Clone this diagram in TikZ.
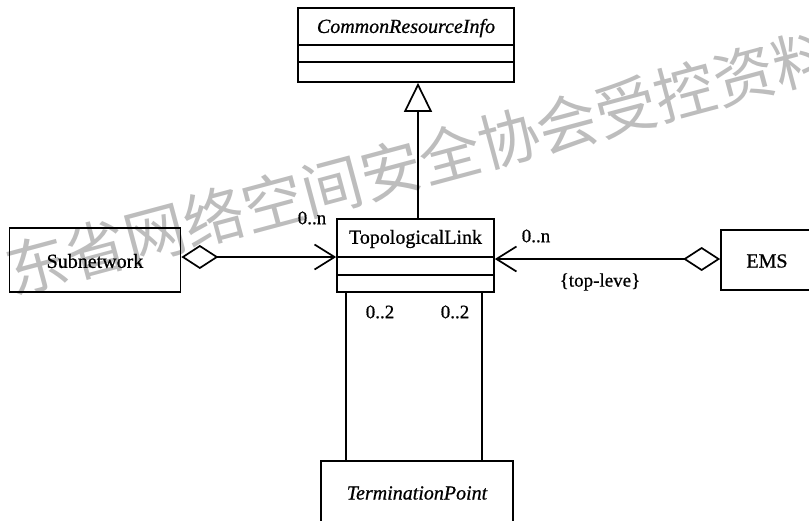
\documentclass[tikz,border=0pt]{standalone}
\usepackage{fontspec}
\setmainfont{Liberation Serif}[FakeBold=0.7]
\newfontfamily\cjk{Noto Sans CJK SC}
\usetikzlibrary{arrows.meta}
\definecolor{wmgray}{HTML}{BDBDBD}

\tikzset{
  classbox/.style={draw, line width=1.7pt, rectangle, inner sep=0pt, fill=none},
  lbl/.style={font=\fontsize{19}{22}\selectfont, inner sep=0pt},
  cname/.style={font=\fontsize{20}{24}\selectfont, inner sep=0pt},
  conn/.style={line width=1.7pt},
  gen/.style={conn, -{Triangle[open, length=29pt, width=28pt, line width=1.7pt]}},
  agg/.style={conn, {Diamond[open, length=37pt, width=24pt, line width=1.7pt]}-{Straight Barb[length=20pt, width=25pt, line width=1.7pt]}},
  compline/.style={line width=1.7pt},
}

\begin{document}
\begin{tikzpicture}[x=1pt, y=-1pt]
\useasboundingbox (0,0) rectangle (809,520);
\clip (0,0) rectangle (809,520);

% watermark behind the diagram
\node[rotate=15, text=wmgray, font=\cjk\fontsize{61}{61}\selectfont, inner sep=0pt]
  (wm) at (420,162) {东省网络空间安全协会受控资料};

% class boxes
\node[classbox, minimum width=216pt, minimum height=74pt] (cri) at (406,45) {};
\node[classbox, minimum width=157pt, minimum height=73pt] (tl) at (415.5,255.5) {};
\node[classbox, minimum width=171pt, minimum height=64pt] (sub) at (95,260) {};
\node[classbox, minimum width=94pt, minimum height=60pt] (ems) at (768,260) {};
\node[classbox, minimum width=192pt, minimum height=80pt] (tp) at (417,501) {};

% compartments
\draw[compline] (cri.west |- 0,45) -- (cri.east |- 0,45);
\draw[compline] (cri.west |- 0,62) -- (cri.east |- 0,62);
\draw[compline] (tl.west |- 0,257) -- (tl.east |- 0,257);
\draw[compline] (tl.west |- 0,275) -- (tl.east |- 0,275);

% class names
\node[cname, font=\fontsize{20}{24}\selectfont\itshape] (crit) at (406,28) {CommonResourceInfo};
\node[cname] (tlt) at (415.5,239) {TopologicalLink};
\node[cname] (subt) at (95,261) {Subnetwork};
\node[cname] (emst) at (767,261) {EMS};
\node[cname, font=\fontsize{20}{24}\selectfont\itshape] (tpt) at (417,493) {TerminationPoint};

% generalization
\coordinate (gx) at (418,0);
\draw[gen] (tl.north -| gx) -- (cri.south -| gx);

% aggregations
\coordinate (ya) at (0,257);
\coordinate (yb) at (0,259);
\draw[agg] (sub.east |- ya) -- (tl.west |- ya);
\draw[agg] (ems.west |- yb) -- (tl.east |- yb);

% links to termination points
\coordinate (c1) at (346,0);
\coordinate (c2) at (482,0);
\draw[conn] (tl.south -| c1) -- (tp.north -| c1);
\draw[conn] (tl.south -| c2) -- (tp.north -| c2);

% multiplicities and constraint
\node[lbl] (m1) at (312,218) {0..n};
\node[lbl] (m2) at (536,236) {0..n};
\node[lbl] (cons) at (600,282) {\{top-leve\}};
\node[lbl] (m3) at (380,312) {0..2};
\node[lbl] (m4) at (455,312) {0..2};
\end{tikzpicture}
\end{document}
